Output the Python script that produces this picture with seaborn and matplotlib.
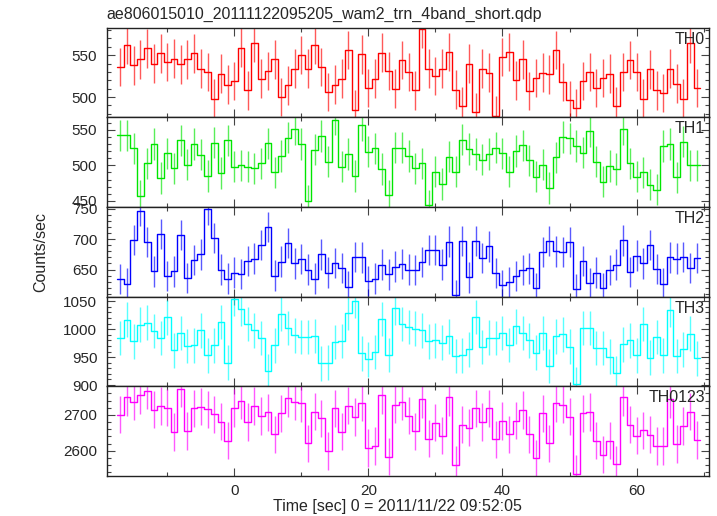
import numpy as np
import pandas as pd
import seaborn as sns
import matplotlib.pyplot as plt
from matplotlib.ticker import MultipleLocator

# 1 s bins, centre times (sec since 2011/11/22 09:52:05)
times = np.arange(-17, 70)

# count rates
th0 = [536, 562, 538, 545, 558, 540, 552, 542, 546, 539,
       545, 552, 534, 530, 498, 528, 515, 519, 559, 508,
       565, 522, 531, 545, 500, 514, 534, 550, 534, 562,
       536, 506, 515, 522, 556, 485, 551, 511, 522, 553,
       531, 510, 544, 530, 508, 581, 534, 525, 534, 554,
       509, 489, 540, 482, 534, 529, 478, 548, 554, 520,
       545, 507, 523, 529, 527, 556, 518, 496, 487, 519,
       530, 511, 523, 528, 489, 530, 544, 530, 498, 533,
       508, 505, 534, 516, 498, 564, 511]
th1 = [542, 542, 524, 457, 503, 530, 482, 517, 496, 535,
       501, 530, 515, 485, 532, 489, 535, 498, 500, 498,
       496, 503, 531, 490, 513, 539, 551, 530, 450, 522,
       541, 505, 564, 498, 516, 485, 556, 519, 524, 495,
       458, 525, 525, 513, 496, 503, 444, 491, 474, 512,
       491, 536, 523, 516, 508, 516, 525, 517, 491, 520,
       528, 507, 484, 501, 468, 511, 540, 538, 527, 518,
       548, 505, 477, 499, 495, 551, 503, 484, 490, 473,
       466, 527, 530, 483, 533, 500, 500]
th2 = [634, 627, 699, 746, 695, 647, 708, 639, 647, 707,
       636, 666, 675, 749, 702, 650, 635, 645, 643, 664,
       668, 690, 720, 640, 663, 694, 660, 667, 650, 635,
       675, 645, 661, 653, 622, 671, 670, 631, 635, 658,
       642, 655, 659, 650, 649, 662, 682, 682, 658, 696,
       608, 697, 637, 697, 669, 688, 644, 625, 629, 639,
       649, 652, 620, 679, 697, 680, 679, 695, 618, 664,
       628, 645, 620, 649, 658, 698, 646, 673, 660, 690,
       651, 627, 670, 668, 671, 653, 669]
th3 = [984, 1017, 978, 1008, 1012, 997, 984, 1021, 962, 993,
       970, 971, 998, 953, 971, 1013, 940, 1055, 1036, 1009,
       998, 984, 925, 971, 1028, 1002, 989, 986, 986, 988,
       939, 940, 977, 979, 1029, 1051, 957, 946, 959, 1018,
       954, 1038, 1009, 1004, 1001, 998, 978, 980, 976, 987,
       952, 953, 964, 1022, 968, 985, 984, 993, 972, 1005,
       993, 980, 958, 993, 934, 987, 991, 969, 901, 1002,
       1002, 966, 966, 951, 921, 973, 980, 953, 1009, 949,
       986, 953, 1035, 952, 964, 992, 948]
th0123 = [2701, 2749, 2737, 2755, 2768, 2715, 2725, 2720, 2652, 2773,
          2655, 2718, 2723, 2716, 2702, 2681, 2628, 2719, 2740, 2680,
          2725, 2697, 2707, 2646, 2704, 2746, 2737, 2732, 2621, 2709,
          2690, 2599, 2718, 2653, 2726, 2694, 2734, 2608, 2613, 2755,
          2584, 2729, 2737, 2698, 2654, 2743, 2634, 2678, 2642, 2749,
          2561, 2673, 2664, 2718, 2680, 2718, 2632, 2683, 2646, 2684,
          2714, 2646, 2579, 2704, 2621, 2733, 2729, 2695, 2535, 2704,
          2708, 2628, 2589, 2628, 2562, 2750, 2673, 2642, 2657, 2645,
          2613, 2613, 2744, 2619, 2669, 2709, 2630]

# typical 1-sigma error per band
band_errors = [23, 22, 25, 31, 52]

band_names = ["TH0", "TH1", "TH2", "TH3", "TH0123"]
band_colors = ["#ff0000", "#00e600", "#0000ff", "#00ffff", "#ff00ff"]
band_ylims = [(476, 583), (441.6, 567.6), (605.5, 753), (897.7, 1058.4), (2529.7, 2779.7)]
band_major = [50, 50, 50, 50, 100]
band_minor = [10, 10, 10, 10, 20]

lc = pd.DataFrame({"time": times, "TH0": th0, "TH1": th1, "TH2": th2,
                   "TH3": th3, "TH0123": th0123})

sns.set_style("ticks")
plt.rcParams['font.family'] = ['Liberation Sans', 'DejaVu Sans']

fig, axes = plt.subplots(5, 1, figsize=(7.17, 5.16), dpi=100, sharex=True)
fig.subplots_adjust(left=0.1492, right=0.9888, top=0.9467, bottom=0.0775, hspace=0)

for ax, name, col, err, ylim, maj, mnr in zip(axes, band_names, band_colors, band_errors,
                                             band_ylims, band_major, band_minor):
    # step curve (1 s bins)
    sns.histplot(data=lc, x="time", weights=name, discrete=True, element="step",
                 fill=False, color=col, linewidth=1.0, ax=ax)
    ax.errorbar(lc["time"], lc[name], yerr=err, fmt="none", ecolor=col,
                elinewidth=1.0, alpha=0.65)
    ax.set_ylim(*ylim)
    ax.set_xlim(-19, 70.8)
    ax.set_ylabel("")
    ax.set_xlabel("")
    ax.yaxis.set_major_locator(MultipleLocator(maj))
    ax.yaxis.set_minor_locator(MultipleLocator(mnr))
    ax.xaxis.set_major_locator(MultipleLocator(20))
    ax.xaxis.set_minor_locator(MultipleLocator(10))
    ax.tick_params(which="both", direction="in", top=True, right=True,
                   labelsize=11, color="#444444", width=0.8)
    ax.tick_params(which="major", length=6)
    ax.tick_params(which="minor", length=3)
    ax.tick_params(axis="y", pad=7)
    ax.tick_params(axis="x", pad=5.5)
    for sp in ax.spines.values():
        sp.set_color("#222222")
        sp.set_linewidth(1.0)
    ax.text(0.993, 0.955, name, transform=ax.transAxes, ha="right", va="top", fontsize=11.5)

fig.text(0.149, 0.963, "ae806015010_20111122095205_wam2_trn_4band_short.qdp",
         ha="left", va="baseline", fontsize=11.5)
fig.text(0.057, 0.512, "Counts/sec", rotation=90, ha="center", va="center", fontsize=11.5)
fig.text(0.555, 0.018, "Time [sec] 0 = 2011/11/22 09:52:05", ha="center", va="center", fontsize=11.5)

fig.savefig("out.png", dpi=100)
